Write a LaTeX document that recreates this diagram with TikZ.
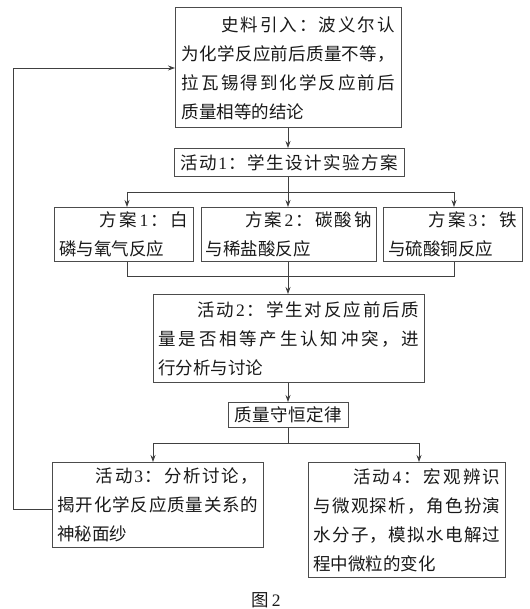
\documentclass[tikz,border=0pt]{standalone}
\usepackage{fontspec}
\setmainfont{Noto Sans CJK SC}
\newfontfamily\latdg{Liberation Serif}
\usetikzlibrary{arrows.meta}
\newcommand\DgA{{\latdg 1}}
\newcommand\DgB{{\latdg 2}}
\newcommand\DgC{{\latdg 3}}
\newcommand\DgD{{\latdg 4}}
\def\jfirst#1{#1\jrest}
\def\jrest#1{\ifx\relax#1\else\hfil#1\expandafter\jrest\fi}
\newcommand\jl[1]{\leavevmode\hbox to\hsize{\jfirst#1\relax}}
\newcommand\ji[1]{\leavevmode\hbox to\hsize{\hskip2em\hfil\hfil\jfirst#1\relax}}
\tikzset{
  box/.style={draw=black!70, line width=0.9pt, inner ysep=0pt, anchor=north west,
    align=left, text=black!90, font=\fontsize{17.5pt}{29pt}\selectfont},
  conn/.style={draw=black!75, line width=0.8pt},
  arr/.style={conn, -{Stealth[length=7pt,width=5pt]}},
}
\begin{document}
\begin{tikzpicture}[x=1pt,y=-1pt]
\useasboundingbox (0,0) rectangle (529,609);
% boxes
\node[box, text width=213pt, inner xsep=6.5pt, minimum height=120pt] (A) at (175,7.5)
  {\ji{史料引入：波义尔认}\\\jl{为化学反应前后质量不等，}\\\jl{拉瓦锡得到化学反应前后}\\质量相等的结论};
\node[box, text width=218pt, inner xsep=6pt, minimum height=28pt] (B) at (174,148)
  {\jl{活动\DgA：学生设计实验方案}};
\node[box, text width=129pt, inner xsep=5pt, minimum height=54pt] (P1) at (54,207)
  {\ji{方案\DgA：白}\\磷与氧气反应};
\node[box, text width=166pt, inner xsep=4.5pt, minimum height=54pt] (P2) at (201,207)
  {\ji{方案\DgB：碳酸钠}\\与稀盐酸反应};
\node[box, text width=129pt, inner xsep=5pt, minimum height=54pt] (P3) at (383,207)
  {\ji{方案\DgC：铁}\\与硫酸铜反应};
\node[box, text width=261pt, inner xsep=5pt, minimum height=88pt] (C) at (153,294)
  {\ji{活动\DgB：学生对反应前后质}\\\jl{量是否相等产生认知冲突，进}\\行分析与讨论};
\node[box, text width=108pt, inner xsep=6pt, minimum height=25pt] (D) at (228,402)
  {\jl{质量守恒定律}};
\node[box, text width=201pt, inner xsep=5pt, minimum height=85pt] (E) at (52,462)
  {\ji{活动\DgC：分析讨论，}\\\jl{揭开化学反应质量关系的}\\神秘面纱};
\node[box, text width=187pt, inner xsep=5pt, minimum height=115pt] (F) at (308,462)
  {\ji{活动\DgD：宏观辨识}\\\jl{与微观探析，角色扮演}\\\jl{水分子，模拟水电解过}\\程中微粒的变化};
\node[text=black!90, font=\fontsize{17.5pt}{20pt}\selectfont] (cap) at (266,600) {图\,\DgB};
% coordinates
\coordinate (s1) at (127,192);
\coordinate (s2) at (288,192);
\coordinate (s3) at (454,192);
\coordinate (m1) at (127,276);
\coordinate (m2) at (288,276);
\coordinate (m3) at (454,276);
\coordinate (t0) at (288,443);
\coordinate (t1) at (153,443);
\coordinate (t2) at (419,443);
\coordinate (fb1) at (13.5,509);
\coordinate (fb2) at (13.5,68);
% connectors
\draw[arr] (A.south -| s2) -- (B.north -| s2);
\draw[conn] (B.south -| s2) -- (s2);
\draw[conn] (s1) -- (s3);
\draw[arr] (s1) -- (P1.north -| s1);
\draw[arr] (s2) -- (P2.north -| s2);
\draw[arr] (s3) -- (P3.north -| s3);
\draw[conn] (P1.south -| m1) -- (m1) -- (m3) -- (P3.south -| m3);
\draw[conn] (P2.south -| m2) -- (m2);
\draw[arr] (m2) -- (C.north -| m2);
\draw[arr] (C.south -| m2) -- (D.north -| m2);
\draw[conn] (D.south -| t0) -- (t0);
\draw[conn] (t1) -- (t2);
\draw[arr] (t1) -- (E.north -| t1);
\draw[arr] (t2) -- (F.north -| t2);
\draw[arr] (E.west |- fb1) -- (fb1) -- (fb2) -- (A.west |- fb2);
\end{tikzpicture}
\end{document}
